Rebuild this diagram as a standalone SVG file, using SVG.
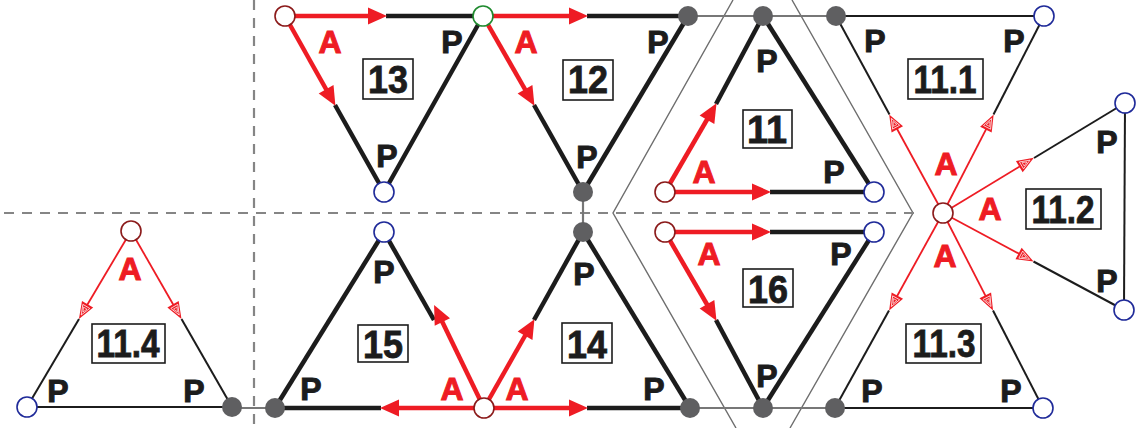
<svg xmlns="http://www.w3.org/2000/svg" width="1138" height="428" viewBox="0 0 1138 428">
<style>
.sep{fill:none;stroke:#6e6e6e;stroke-width:1.4}
.dash{fill:none;stroke:#858585;stroke-width:2.2;stroke-dasharray:10 8}
.gl{fill:none;stroke:#777;stroke-width:2.2}
.bk{fill:none;stroke:#1c1c1c;stroke-width:4.5}
.rd{fill:none;stroke:#ee1c24;stroke-width:4.5;marker-end:url(#ah)}
.bt{fill:none;stroke:#1c1c1c;stroke-width:2}
.rt{fill:none;stroke:#ee1c24;stroke-width:1.8;marker-end:url(#ah2)}
.oa{fill:#fff;stroke:#8b1a1a;stroke-width:1.6}
.ob{fill:#fff;stroke:#1f2a99;stroke-width:1.6}
.og{fill:#fff;stroke:#1f8a2e;stroke-width:1.6}
.gf{fill:#5f5f61;stroke:none}
.lp{font-family:"Liberation Sans",Arial,Helvetica,sans-serif;font-weight:bold;font-size:32px;fill:#1c1c1c;stroke:#1c1c1c;stroke-width:1;text-anchor:middle}
.la{font-family:"Liberation Sans",Arial,Helvetica,sans-serif;font-weight:bold;font-size:32px;fill:#ee1c24;stroke:#ee1c24;stroke-width:1;text-anchor:middle}
.bx{fill:#fff;stroke:#1c1c1c;stroke-width:1.6}
.ln{font-family:"Liberation Sans",Arial,Helvetica,sans-serif;font-weight:bold;font-size:38px;fill:#1c1c1c;stroke:#1c1c1c;stroke-width:0.8;text-anchor:middle}
</style>
<defs>
<marker id="ah" markerUnits="userSpaceOnUse" viewBox="-2 -10 24 20" markerWidth="24" markerHeight="20" refX="10" refY="0" orient="auto" overflow="visible">
<path d="M0,-8.5 L19,0 L0,8.5 z" fill="#ee1c24"/>
</marker>
<marker id="ah2" markerUnits="userSpaceOnUse" viewBox="-2 -8 22 16" markerWidth="22" markerHeight="16" refX="9" refY="0" orient="auto" overflow="visible">
<path d="M0,-6.5 L17,0 L0,6.5 z" fill="#ee1c24"/>
<path d="M2.5,-4 L12.5,0 L2.5,4 z" fill="none" stroke="#fff" stroke-width="0.7"/>
<path d="M4.5,-2 L9,0 L4.5,2 z" fill="none" stroke="#fff" stroke-width="0.6"/>
</marker>
</defs>

<g id="guides">
<polyline class="sep" points="733,0 613,213 736,428"/>
<polyline class="sep" points="792,0 913,213 790,428"/>
<line class="dash" x1="4" y1="213" x2="922" y2="213"/>
<line class="dash" x1="254" y1="0" x2="254" y2="428"/>
</g>

<g id="connectors">
<line class="gl" x1="688" y1="16" x2="836" y2="16"/>
<line class="gl" x1="232" y1="408" x2="275" y2="408"/>
<line class="gl" x1="690" y1="408" x2="836" y2="408"/>
<line class="gl" x1="583" y1="192" x2="583" y2="232"/>
<line class="bk" x1="386" y1="16" x2="483" y2="16"/>
<line class="bk" x1="335" y1="105" x2="384" y2="192"/>
<line class="bk" x1="483" y1="16" x2="384" y2="192"/>
<line class="rd" x1="285" y1="16" x2="378" y2="16"/>
<line class="rd" x1="285" y1="16" x2="331" y2="98"/>
<line class="bk" x1="587" y1="16" x2="688" y2="16"/>
<line class="bk" x1="534" y1="105" x2="583" y2="192"/>
<line class="bk" x1="688" y1="16" x2="583" y2="192"/>
<line class="rd" x1="483" y1="16" x2="579" y2="16"/>
<line class="rd" x1="483" y1="16" x2="530" y2="98"/>
<line class="bk" x1="716" y1="104" x2="763" y2="16"/>
<line class="bk" x1="763" y1="16" x2="874" y2="192"/>
<line class="bk" x1="770" y1="192" x2="874" y2="192"/>
<line class="rd" x1="665" y1="192" x2="712" y2="111"/>
<line class="rd" x1="665" y1="192" x2="762" y2="192"/>
<line class="bk" x1="770" y1="232" x2="874" y2="232"/>
<line class="bk" x1="716" y1="320" x2="763" y2="408"/>
<line class="bk" x1="874" y1="232" x2="763" y2="408"/>
<line class="rd" x1="665" y1="232" x2="762" y2="232"/>
<line class="rd" x1="665" y1="232" x2="712" y2="313"/>
<line class="bk" x1="434" y1="320" x2="384" y2="232"/>
<line class="bk" x1="384" y1="232" x2="275" y2="408"/>
<line class="bk" x1="381" y1="408" x2="275" y2="408"/>
<line class="rd" x1="484" y1="408" x2="438" y2="313"/>
<line class="rd" x1="484" y1="408" x2="389" y2="408"/>
<line class="bk" x1="534" y1="320" x2="583" y2="232"/>
<line class="bk" x1="583" y1="232" x2="690" y2="408"/>
<line class="bk" x1="587" y1="408" x2="690" y2="408"/>
<line class="rd" x1="484" y1="408" x2="530" y2="327"/>
<line class="rd" x1="484" y1="408" x2="579" y2="408"/>
<line class="bt" x1="836" y1="16" x2="1044" y2="16"/>
<line class="bt" x1="889.5" y1="114.5" x2="836" y2="16"/>
<line class="bt" x1="993.5" y1="114.5" x2="1044" y2="16"/>
<line class="rt" x1="943" y1="213" x2="893" y2="121.5"/>
<line class="rt" x1="943" y1="213" x2="990" y2="121.6"/>
<line class="bt" x1="1125" y1="103" x2="1124" y2="310"/>
<line class="bt" x1="1034" y1="158" x2="1125" y2="103"/>
<line class="bt" x1="1033.5" y1="261.5" x2="1124" y2="310"/>
<line class="rt" x1="943" y1="213" x2="1027" y2="162"/>
<line class="rt" x1="943" y1="213" x2="1026.5" y2="257.7"/>
<line class="bt" x1="835" y1="408" x2="1043" y2="408"/>
<line class="bt" x1="889" y1="310.5" x2="835" y2="408"/>
<line class="bt" x1="993" y1="310.5" x2="1043" y2="408"/>
<line class="rt" x1="943" y1="213" x2="893" y2="303.5"/>
<line class="rt" x1="943" y1="213" x2="989.4" y2="303.4"/>
<line class="bt" x1="27" y1="407" x2="232" y2="407"/>
<line class="bt" x1="79" y1="319" x2="27" y2="407"/>
<line class="bt" x1="181.5" y1="319" x2="232" y2="407"/>
<line class="rt" x1="131" y1="231" x2="83" y2="312"/>
<line class="rt" x1="131" y1="231" x2="177.5" y2="312"/>
</g>

<g id="nodes">
<g id="n-285-16"><circle class="oa" cx="285" cy="16" r="10"/></g>
<g id="n-483-16"><circle class="og" cx="483" cy="16" r="10"/></g>
<g id="n-688-16"><circle class="gf" cx="688" cy="16" r="10"/></g>
<g id="n-763-16"><circle class="gf" cx="763" cy="16" r="10"/></g>
<g id="n-836-16"><circle class="gf" cx="836" cy="16" r="10"/></g>
<g id="n-1044-16"><circle class="ob" cx="1044" cy="16" r="10"/></g>
<g id="n-384-192"><circle class="ob" cx="384" cy="192" r="10"/></g>
<g id="n-583-192"><circle class="gf" cx="583" cy="192" r="10"/></g>
<g id="n-665-192"><circle class="oa" cx="665" cy="192" r="10"/></g>
<g id="n-874-192"><circle class="ob" cx="874" cy="192" r="10"/></g>
<g id="n-943-213"><circle class="oa" cx="943" cy="213" r="10"/></g>
<g id="n-1125-103"><circle class="ob" cx="1125" cy="103" r="10"/></g>
<g id="n-1124-310"><circle class="ob" cx="1124" cy="310" r="10"/></g>
<g id="n-131-231"><circle class="oa" cx="131" cy="231" r="10"/></g>
<g id="n-384-232"><circle class="ob" cx="384" cy="232" r="10"/></g>
<g id="n-583-232"><circle class="gf" cx="583" cy="232" r="10"/></g>
<g id="n-665-232"><circle class="oa" cx="665" cy="232" r="10"/></g>
<g id="n-874-232"><circle class="ob" cx="874" cy="232" r="10"/></g>
<g id="n-27-407"><circle class="ob" cx="27" cy="407" r="10"/></g>
<g id="n-232-407"><circle class="gf" cx="232" cy="407" r="10"/></g>
<g id="n-275-408"><circle class="gf" cx="275" cy="408" r="10"/></g>
<g id="n-484-408"><circle class="oa" cx="484" cy="408" r="10"/></g>
<g id="n-690-408"><circle class="gf" cx="690" cy="408" r="10"/></g>
<g id="n-763-408"><circle class="gf" cx="763" cy="408" r="10"/></g>
<g id="n-835-408"><circle class="gf" cx="835" cy="408" r="10"/></g>
<g id="n-1043-408"><circle class="ob" cx="1043" cy="408" r="10"/></g>
</g>

<g id="tri-13">
<text class="la" x="330" y="53">A</text>
<text class="lp" x="452" y="53">P</text>
<text class="lp" x="387" y="167">P</text>
<rect class="bx" x="363" y="59" width="50" height="40"/>
<text class="ln" x="388" y="93" textLength="40" lengthAdjust="spacingAndGlyphs">13</text>
</g>
<g id="tri-12">
<text class="la" x="526" y="53">A</text>
<text class="lp" x="658" y="53">P</text>
<text class="lp" x="587" y="168">P</text>
<rect class="bx" x="563" y="60" width="50" height="40"/>
<text class="ln" x="588" y="93" textLength="40" lengthAdjust="spacingAndGlyphs">12</text>
</g>
<g id="tri-11">
<text class="la" x="704" y="183">A</text>
<text class="lp" x="767" y="72">P</text>
<text class="lp" x="834" y="183">P</text>
<rect class="bx" x="743" y="110" width="49" height="38"/>
<text class="ln" x="767" y="143" textLength="40" lengthAdjust="spacingAndGlyphs">11</text>
</g>
<g id="tri-16">
<text class="la" x="709" y="265">A</text>
<text class="lp" x="841" y="265">P</text>
<text class="lp" x="767" y="387">P</text>
<rect class="bx" x="743" y="269" width="50" height="38"/>
<text class="ln" x="768" y="303" textLength="40" lengthAdjust="spacingAndGlyphs">16</text>
</g>
<g id="tri-15">
<text class="la" x="452" y="400">A</text>
<text class="lp" x="384" y="283">P</text>
<text class="lp" x="311" y="400">P</text>
<rect class="bx" x="358" y="325" width="50" height="37"/>
<text class="ln" x="383" y="358" textLength="40" lengthAdjust="spacingAndGlyphs">15</text>
</g>
<g id="tri-14">
<text class="la" x="517" y="400">A</text>
<text class="lp" x="584" y="285">P</text>
<text class="lp" x="654" y="400">P</text>
<rect class="bx" x="562" y="323" width="50" height="40"/>
<text class="ln" x="587" y="358" textLength="40" lengthAdjust="spacingAndGlyphs">14</text>
</g>
<g id="tri-11-1">
<text class="la" x="946" y="175">A</text>
<text class="lp" x="875" y="52">P</text>
<text class="lp" x="1014" y="52">P</text>
<rect class="bx" x="908" y="59" width="75" height="40"/>
<text class="ln" x="945" y="93" textLength="63" lengthAdjust="spacingAndGlyphs">11.1</text>
</g>
<g id="tri-11-2">
<text class="la" x="990" y="220">A</text>
<text class="lp" x="1107" y="153">P</text>
<text class="lp" x="1107" y="292">P</text>
<rect class="bx" x="1026" y="189" width="75" height="40"/>
<text class="ln" x="1063" y="223" textLength="63" lengthAdjust="spacingAndGlyphs">11.2</text>
</g>
<g id="tri-11-3">
<text class="la" x="945" y="267">A</text>
<text class="lp" x="872" y="402">P</text>
<text class="lp" x="1011" y="402">P</text>
<rect class="bx" x="906" y="324" width="75" height="39"/>
<text class="ln" x="944" y="357" textLength="63" lengthAdjust="spacingAndGlyphs">11.3</text>
</g>
<g id="tri-11-4">
<text class="la" x="130" y="280">A</text>
<text class="lp" x="58" y="402">P</text>
<text class="lp" x="194" y="402">P</text>
<rect class="bx" x="92" y="324" width="73" height="39"/>
<text class="ln" x="128" y="357" textLength="63" lengthAdjust="spacingAndGlyphs">11.4</text>
</g>
</svg>
